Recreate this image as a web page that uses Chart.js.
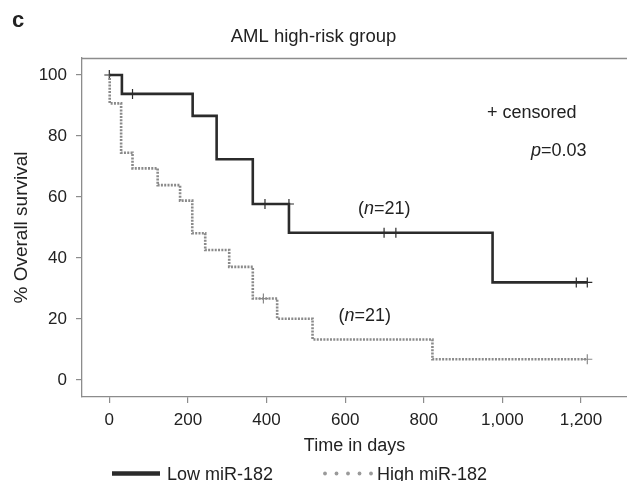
<!DOCTYPE html>
<html>
<head>
<meta charset="utf-8">
<script src="https://cdn.jsdelivr.net/npm/chart.js@4.4.0/dist/chart.umd.min.js"></script>
<style>
  html, body { margin: 0; padding: 0; background: #fff; }
  #wrap { position: relative; width: 627px; height: 481px; }
</style>
</head>
<body>
<div id="wrap"><canvas id="c" width="627" height="481"></canvas></div>
<script>
// ---- data ----
const lowDays  = [0, 32, 212, 273, 365, 457, 975, 1216];
const lowSurv  = [100, 93.8, 86.6, 72.4, 57.7, 48.3, 32.0, 32.0];
const lowCensDays = [0, 59, 396, 457, 699, 729, 1188, 1216];
const lowCensSurv = [100, 93.8, 57.7, 57.7, 48.3, 48.3, 32.0, 32.0];

const highDays = [0, 1, 30, 59, 123, 180, 211, 244, 305, 365, 427, 517, 822, 1216];
const highSurv = [100, 90.7, 74.5, 69.4, 63.9, 58.8, 48.1, 42.6, 37.1, 26.7, 20.1, 13.3, 6.8, 6.8];
const highCensDays = [392, 1216];
const highCensSurv = [26.7, 6.8];

const xTicks = [0, 200, 400, 600, 800, 1000, 1200];
const xTickLabels = ['0', '200', '400', '600', '800', '1,000', '1,200'];
const yTicks = [0, 20, 40, 60, 80, 100];
const yTickLabels = ['0', '20', '40', '60', '80', '100'];

const seriesNames = ['Low miR-182', 'High miR-182'];
const groupSizes = ['21', '21'];
const pValue = '0.03';

const FONT = '"Liberation Sans", Arial, Helvetica, sans-serif';
const TXT = '#222222';
const AXIS = '#8c8c8c';
const LOWC = '#2b2b2b';
const HIGHC = '#8a8a8a';

const pts = (xs, ys) => xs.map((x, i) => ({x: x, y: ys[i]}));

const extras = {
  id: 'extras',
  beforeDatasetsDraw(chart) {
    const {ctx, chartArea: a} = chart;
    ctx.save();
    ctx.strokeStyle = AXIS;
    ctx.lineWidth = 1.3;
    ctx.beginPath();
    ctx.moveTo(a.left, a.top + 0.5);
    ctx.lineTo(a.right + 2, a.top + 0.5);
    ctx.stroke();
    ctx.restore();
  },
  afterDraw(chart) {
    const ctx = chart.ctx;
    ctx.save();
    ctx.fillStyle = TXT;
    ctx.textBaseline = 'alphabetic';
    ctx.textAlign = 'left';
    // panel letter
    ctx.font = 'bold 22px ' + FONT;
    ctx.fillText('c', 12, 27);

    const norm = '18px ' + FONT, ital = 'italic 18px ' + FONT;
    function runs(parts, x, y) {
      parts.forEach(p => {
        ctx.font = p[1] ? ital : norm;
        ctx.fillText(p[0], x, y);
        x += ctx.measureText(p[0]).width;
      });
    }
    runs([['+ censored', false]], 487, 118);
    runs([['p', true], ['=' + pValue, false]], 531, 156);
    runs([['(', false], ['n', true], ['=' + groupSizes[0] + ')', false]], 358, 214);
    runs([['(', false], ['n', true], ['=' + groupSizes[1] + ')', false]], 338.5, 321);

    // legend
    ctx.strokeStyle = LOWC;
    ctx.lineWidth = 4.5;
    ctx.beginPath();
    ctx.moveTo(112, 473.5);
    ctx.lineTo(160, 473.5);
    ctx.stroke();
    ctx.fillStyle = TXT;
    ctx.font = norm;
    ctx.fillText(seriesNames[0], 167, 479.5);
    ctx.fillStyle = '#9a9a9a';
    for (let i = 0; i < 5; i++) {
      ctx.beginPath();
      ctx.arc(325 + i * 11.5, 473.5, 1.9, 0, Math.PI * 2);
      ctx.fill();
    }
    ctx.fillStyle = TXT;
    ctx.fillText(seriesNames[1], 377, 479.5);
    ctx.restore();
  }
};

new Chart(document.getElementById('c'), {
  type: 'line',
  data: {
    datasets: [
      { label: seriesNames[0], data: pts(lowDays, lowSurv), stepped: true,
        borderColor: LOWC, borderWidth: 2.6, pointRadius: 0, fill: false },
      { label: seriesNames[1], data: pts(highDays, highSurv), stepped: true,
        borderColor: HIGHC, borderWidth: 2.6, borderDash: [2, 1.3], pointRadius: 0, fill: false },
      { type: 'scatter', label: 'cens1', data: pts(lowCensDays, lowCensSurv), showLine: false,
        pointStyle: 'cross', pointRadius: 5, borderColor: LOWC, borderWidth: 1.2, backgroundColor: LOWC },
      { type: 'scatter', label: 'cens2', data: pts(highCensDays, highCensSurv), showLine: false,
        pointStyle: 'cross', pointRadius: 5, borderColor: HIGHC, borderWidth: 1.2, backgroundColor: HIGHC }
    ]
  },
  options: {
    responsive: false,
    animation: false,
    devicePixelRatio: 1,
    layout: { autoPadding: false, padding: { left: 0, right: 0, top: 0, bottom: 0 } },
    plugins: {
      legend: { display: false },
      tooltip: { enabled: false },
      title: {
        display: true, text: 'AML high-risk group', color: TXT,
        font: { family: FONT, size: 18.5, weight: 'normal' },
        padding: { top: 25.5, bottom: 10.3 }
      }
    },
    scales: {
      x: {
        type: 'linear', min: -69.5, max: 1317,
        afterFit(s) { s.height = 84; },
        afterBuildTicks(s) { s.ticks = xTicks.map(v => ({value: v})); },
        ticks: {
          color: TXT, font: { family: FONT, size: 17 }, padding: 7, maxRotation: 0,
          callback: (v) => { const i = xTicks.indexOf(v); return i >= 0 ? xTickLabels[i] : ''; }
        },
        grid: { drawOnChartArea: false, drawTicks: true, tickLength: 6, color: AXIS, lineWidth: 1.2 },
        border: { display: true, color: AXIS, width: 1.3 },
        title: { display: true, text: 'Time in days', color: TXT,
          font: { family: FONT, size: 18 }, padding: { top: 0, bottom: 24 } }
      },
      y: {
        type: 'linear', min: -5.57, max: 105.57,
        afterFit(s) { s.width = 82; },
        afterBuildTicks(s) { s.ticks = yTicks.map(v => ({value: v})); },
        ticks: {
          color: TXT, font: { family: FONT, size: 17 }, padding: 9,
          callback: (v) => { const i = yTicks.indexOf(v); return i >= 0 ? yTickLabels[i] : ''; }
        },
        grid: { drawOnChartArea: false, drawTicks: true, tickLength: 6, color: AXIS, lineWidth: 1.2 },
        border: { display: true, color: AXIS, width: 1.3 },
        title: { display: true, text: '% Overall survival', color: TXT,
          font: { family: FONT, size: 19 }, padding: { top: 10, bottom: 0 } }
      }
    }
  },
  plugins: [extras]
});
</script>
</body>
</html>
